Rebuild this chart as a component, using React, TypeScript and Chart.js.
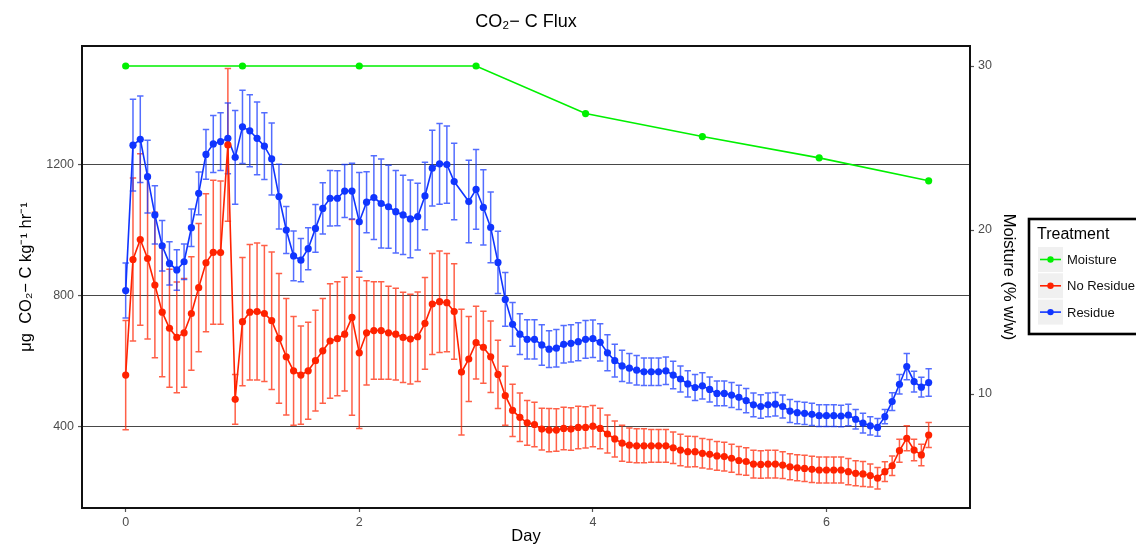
import React, { useEffect, useRef } from "react";
import { Chart, registerables } from "chart.js";

Chart.register(...registerables);

// ---- data ----
const TIME_H = [
  0, 1.5, 3, 4.5, 6, 7.5, 9, 10.5, 12, 13.5, 15, 16.5, 18, 19.5, 21, 22.5, 24, 25.5, 27, 28.5,
  30, 31.5, 33, 34.5, 36, 37.5, 39, 40.5, 42, 43.5, 45, 46.5, 48, 49.5, 51, 52.5, 54, 55.5, 57, 58.5,
  60, 61.5, 63, 64.5, 66, 67.5, 69, 70.5, 72, 73.5, 75, 76.5, 78, 79.5, 81, 82.5, 84, 85.5, 87, 88.5,
  90, 91.5, 93, 94.5, 96, 97.5, 99, 100.5, 102, 103.5, 105, 106.5, 108, 109.5, 111, 112.5, 114, 115.5, 117, 118.5,
  120, 121.5, 123, 124.5, 126, 127.5, 129, 130.5, 132, 133.5, 135, 136.5, 138, 139.5, 141, 142.5, 144, 145.5, 147, 148.5,
  150, 151.5, 153, 154.5, 156, 157.5, 159, 160.5, 162, 163.5, 165,
];

const RESIDUE = [
  816, 1260, 1278, 1164, 1047, 953, 899, 879, 904, 1008,
  1113, 1232, 1264, 1271, 1281, 1223, 1316, 1304, 1281, 1257,
  1218, 1103, 1001, 922, 909, 944, 1006, 1067, 1098, 1098,
  1120, 1120, 1026, 1086, 1100, 1082, 1072, 1057, 1047, 1035,
  1042, 1105, 1190, 1203, 1201, 1149, null, 1088, 1125, 1070,
  1009, 902, 789, 713, 683, 667, 667, 650, 637, 640,
  652, 655, 660, 667, 669, 658, 626, 602, 586, 579,
  573, 568, 568, 568, 571, 558, 546, 531, 520, 525,
  514, 502, 502, 497, 490, 480, 467, 462, 467, 469,
  462, 448, 443, 441, 438, 434, 434, 434, 433, 436,
  423, 411, 403, 398, 431, 477, 530, 584, 538, 521,
  535,
];

const RESIDUE_ERR = [
  84, 140, 132, 111, 89, 77, 66, 62, 54, 57,
  65, 76, 87, 88, 108, 143, 112, 110, 111, 102,
  110, 99, 72, 76, 66, 64, 73, 78, 85, 84,
  81, 85, 151, 93, 128, 136, 127, 126, 121, 119,
  102, 103, 116, 123, 118, 117, null, 126, 122, 115,
  108, 95, 82, 67, 62, 60, 60, 62, 56, 57,
  57, 57, 58, 58, 57, 57, 55, 50, 48, 45,
  45, 42, 42, 42, 42, 42, 40, 40, 40, 40,
  38, 38, 38, 38, 37, 37, 36, 36, 36, 36,
  35, 35, 34, 34, 34, 33, 33, 33, 33, 33,
  30, 30, 28, 27, 22, 27, 30, 40, 32, 30,
  42,
];

const NO_RESIDUE = [
  558, 911, 972, 914, 833, 750, 701, 673, 687, 746,
  825, 901, 933, 932, 1261, 484, 721, 750, 752, 746,
  724, 670, 614, 571, 558, 571, 602, 632, 662, 669,
  683, 734, 626, 687, 694, 694, 687, 683, 673, 668,
  675, 716, 775, 782, 779, 752, 567, 607, 657, 643,
  614, 560, 495, 450, 429, 412, 407, 393, 390, 390,
  395, 393, 398, 398, 402, 395, 378, 363, 350, 344,
  342, 342, 342, 342, 342, 336, 329, 324, 324, 319,
  316, 311, 309, 304, 297, 294, 286, 285, 286, 286,
  283, 278, 275, 273, 270, 268, 268, 268, 268, 263,
  258, 256, 251, 243, 263, 281, 327, 365, 329, 314,
  375,
];

const NO_RESIDUE_ERR = [
  167, 249, 262, 246, 222, 197, 180, 169, 166, 173,
  196, 211, 220, 219, 233, 76, 196, 207, 209, 208,
  210, 198, 178, 166, 150, 148, 154, 160, 175, 174,
  174, 299, 231, 159, 149, 149, 142, 140, 138, 137,
  137, 140, 154, 155, 150, 146, 192, 130, 111, 110,
  109, 104, 90, 80, 74, 68, 68, 64, 66, 65,
  65, 65, 65, 63, 63, 62, 58, 55, 55, 52,
  52, 52, 50, 50, 50, 48, 48, 47, 46, 45,
  45, 44, 44, 43, 43, 42, 42, 42, 42, 42,
  41, 40, 40, 40, 40, 40, 40, 40, 40, 40,
  38, 38, 35, 33, 30, 30, 35, 38, 33, 33,
  38,
];

const MOISTURE_H = [0, 24, 48, 72, 94.5, 118.5, 142.5, 165];
const MOISTURE = [30, 30, 30, 30, 27.1, 25.7, 24.4, 23.0];

const DAY_TICKS = [0, 2, 4, 6];
const FLUX_TICKS = [400, 800, 1200];
const MOIST_TICKS = [10, 20, 30];

const SERIES_NAMES = ["Moisture", "No Residue", "Residue"];
const SERIES_COLORS = ["#00f000", "#ff2200", "#1035ff"];
const ERR_COLORS = ["rgba(0,240,0,0.75)", "rgba(255,34,0,0.72)", "rgba(16,53,255,0.72)"];

const TITLE = "CO\u2082\u2212 C Flux";
const X_TITLE = "Day";
const Y_TITLE = "\u03bcg  CO\u2082\u2212 C kg\u207b\u00b9 hr\u207b\u00b9";
const Y2_TITLE = "Moisture (% w/w)";
const LEGEND_TITLE = "Treatment";

const FONT = '"Liberation Sans", Arial, Helvetica, sans-serif';

const toDays = (h: number) => h / 24;

const errorBarPlugin = {
  id: "errorBars",
  beforeDatasetsDraw(chart: any) {
    const { ctx, chartArea } = chart;
    ctx.save();
    ctx.beginPath();
    ctx.rect(chartArea.left, chartArea.top, chartArea.width, chartArea.height);
    ctx.clip();
    chart.data.datasets.forEach((ds: any) => {
      const errs = ds.errors;
      if (!errs) return;
      const xs = chart.scales.x;
      const ys = chart.scales[ds.yAxisID || "y"];
      ctx.strokeStyle = ds.errorColor;
      ctx.lineWidth = 1.5;
      ds.data.forEach((p: any, i: number) => {
        if (p.y == null || errs[i] == null) return;
        const px = xs.getPixelForValue(p.x);
        const y1 = ys.getPixelForValue(p.y - errs[i]);
        const y2 = ys.getPixelForValue(p.y + errs[i]);
        ctx.beginPath();
        ctx.moveTo(px, y1);
        ctx.lineTo(px, y2);
        ctx.moveTo(px - 3.2, y1);
        ctx.lineTo(px + 3.2, y1);
        ctx.moveTo(px - 3.2, y2);
        ctx.lineTo(px + 3.2, y2);
        ctx.stroke();
      });
    });
    ctx.restore();
  },
};

const decorPlugin = {
  id: "decor",
  afterDraw(chart: any) {
    const { ctx, chartArea } = chart;
    ctx.save();
    // panel border
    ctx.strokeStyle = "#111";
    ctx.lineWidth = 2;
    ctx.strokeRect(chartArea.left, chartArea.top, chartArea.width, chartArea.height);
    // title
    ctx.fillStyle = "#000";
    ctx.font = `18px ${FONT}`;
    ctx.textAlign = "center";
    ctx.textBaseline = "middle";
    ctx.fillText(TITLE, (chartArea.left + chartArea.right) / 2, 22);
    // legend
    const lx = chartArea.right + 59;
    const ly = 219;
    ctx.lineWidth = 2.6;
    ctx.strokeStyle = "#000";
    ctx.strokeRect(lx, ly, 140, 115);
    ctx.textAlign = "left";
    ctx.font = `16px ${FONT}`;
    ctx.fillStyle = "#000";
    ctx.fillText(LEGEND_TITLE, lx + 8, ly + 16);
    SERIES_NAMES.forEach((name, i) => {
      const ky = ly + 28 + i * 26.3;
      ctx.fillStyle = "#f0f0f0";
      ctx.fillRect(lx + 9, ky, 25, 25);
      const cy = ky + 12.5;
      ctx.strokeStyle = SERIES_COLORS[i];
      ctx.lineWidth = 1.6;
      ctx.beginPath();
      ctx.moveTo(lx + 11, cy);
      ctx.lineTo(lx + 32, cy);
      ctx.stroke();
      ctx.fillStyle = SERIES_COLORS[i];
      ctx.beginPath();
      ctx.arc(lx + 21.5, cy, 3.2, 0, Math.PI * 2);
      ctx.fill();
      ctx.fillStyle = "#111";
      ctx.font = `13px ${FONT}`;
      ctx.fillText(name, lx + 38, cy + 1);
    });
    ctx.restore();
  },
};

export default function App() {
  const canvasRef = useRef<HTMLCanvasElement | null>(null);

  useEffect(() => {
    const canvas = canvasRef.current;
    if (!canvas) return;

    const moistureData = MOISTURE_H.map((h, i) => ({ x: toDays(h), y: MOISTURE[i] }));
    const noResData = TIME_H.map((h, i) => ({ x: toDays(h), y: NO_RESIDUE[i] }));
    const resData = TIME_H.map((h, i) => ({ x: toDays(h), y: RESIDUE[i] }));

    const lineStyle = (c: string) => ({
      borderColor: c,
      backgroundColor: c,
      pointBackgroundColor: c,
      pointBorderWidth: 0,
      pointRadius: 3.6,
      borderWidth: 1.6,
      tension: 0,
      fill: false,
    });

    const tickFont = { family: FONT, size: 12.5 };
    const titleFont = { family: FONT, size: 16.5 };
    const plainLabel = (v: any) => String(v);

    const chart = new Chart(canvas, {
      type: "line",
      data: {
        datasets: [
          {
            label: SERIES_NAMES[0],
            data: moistureData,
            yAxisID: "y2",
            ...lineStyle(SERIES_COLORS[0]),
          } as any,
          {
            label: SERIES_NAMES[1],
            data: noResData,
            yAxisID: "y",
            errors: NO_RESIDUE_ERR,
            errorColor: ERR_COLORS[1],
            ...lineStyle(SERIES_COLORS[1]),
          } as any,
          {
            label: SERIES_NAMES[2],
            data: resData,
            yAxisID: "y",
            spanGaps: true,
            errors: RESIDUE_ERR,
            errorColor: ERR_COLORS[2],
            ...lineStyle(SERIES_COLORS[2]),
          } as any,
        ],
      },
      options: {
        responsive: false,
        animation: false,
        devicePixelRatio: 1,
        layout: { padding: { left: 0, right: 114, top: 46, bottom: 0 } },
        plugins: {
          legend: { display: false },
          title: { display: false },
          tooltip: { enabled: false },
        },
        scales: {
          x: {
            type: "linear",
            min: -0.374,
            max: 7.229,
            afterBuildTicks: (s: any) => {
              s.ticks = DAY_TICKS.map((v) => ({ value: v }));
            },
            afterFit: (s: any) => {
              s.height = 44;
            },
            grid: {
              display: true,
              drawOnChartArea: false,
              drawTicks: true,
              tickLength: 4,
              tickColor: "#555",
              tickWidth: 1.2,
            },
            border: { display: false },
            ticks: { color: "#4d4d4d", font: tickFont, padding: 3, maxRotation: 0, callback: plainLabel },
            title: {
              display: true,
              text: X_TITLE,
              color: "#000",
              font: titleFont,
              padding: { top: 0, bottom: 6 },
            },
          },
          y: {
            type: "linear",
            position: "left",
            min: 152,
            max: 1563,
            afterBuildTicks: (s: any) => {
              s.ticks = FLUX_TICKS.map((v) => ({ value: v }));
            },
            afterFit: (s: any) => {
              s.width = 82;
            },
            grid: {
              display: true,
              drawOnChartArea: true,
              color: "#474747",
              lineWidth: 1.1,
              drawTicks: true,
              tickLength: 4,
              tickColor: "#555",
              tickWidth: 1.2,
            },
            border: { display: false },
            ticks: { color: "#4d4d4d", font: tickFont, padding: 4, callback: plainLabel },
            title: {
              display: true,
              text: Y_TITLE,
              color: "#000",
              font: titleFont,
              padding: { top: 17, bottom: 0 },
            },
          },
          y2: {
            type: "linear",
            position: "right",
            min: 3.05,
            max: 31.22,
            afterBuildTicks: (s: any) => {
              s.ticks = MOIST_TICKS.map((v) => ({ value: v }));
            },
            afterFit: (s: any) => {
              s.width = 52;
            },
            grid: {
              display: true,
              drawOnChartArea: false,
              drawTicks: true,
              tickLength: 4,
              tickColor: "#555",
              tickWidth: 1.2,
            },
            border: { display: false },
            ticks: { color: "#4d4d4d", font: tickFont, padding: 4, callback: plainLabel },
            title: {
              display: true,
              text: Y2_TITLE,
              color: "#000",
              font: titleFont,
              padding: { top: 4, bottom: 0 },
            },
          },
        },
      } as any,
      plugins: [errorBarPlugin, decorPlugin],
    });

    return () => chart.destroy();
  }, []);

  return (
    <div style={{ position: "absolute", left: 0, top: 0, width: 1136, height: 552, background: "#fff" }}>
      <canvas ref={canvasRef} width={1136} height={552} style={{ display: "block" }} />
    </div>
  );
}
